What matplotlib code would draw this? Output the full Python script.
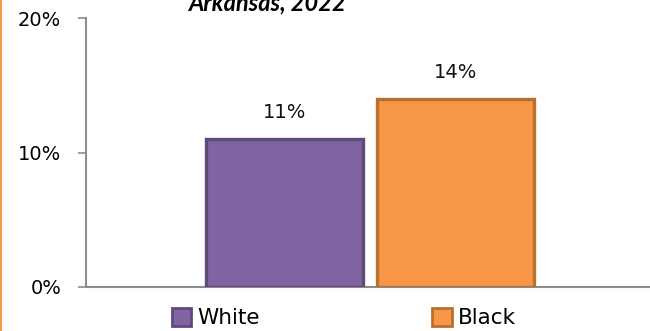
import matplotlib
matplotlib.use("Agg")
import matplotlib.pyplot as plt
from matplotlib.patches import Patch
from matplotlib.lines import Line2D

# Share of population, by race, Arkansas 2022
groups = ["White", "Black"]
values = [11, 14]
fills = ["#8064A2", "#F79646"]
edges = ["#5E4A7C", "#B8702F"]
yticks = [0, 10, 20]
ytick_labels = ["0%", "10%", "20%"]
title = "Arkansas, 2022"

plt.rcParams["font.family"] = ["DejaVu Sans"]

fig = plt.figure(figsize=(6.5, 3.31), dpi=100)
ax = fig.add_axes([86 / 650, 1 - 287 / 331, 1 - 86 / 650 + 0.01, (287 - 18) / 331])

bar_w = 0.275
offsets = [-0.152, 0.148]
for i, (g, v) in enumerate(zip(groups, values)):
    ax.bar(offsets[i], v, width=bar_w, color=fills[i], edgecolor=edges[i],
           linewidth=2.4, zorder=3)
    ax.text(offsets[i], v + 1.25, f"{v}%", ha="center", va="bottom",
            fontsize=14, color="#111111")

ax.set_xlim(-0.5, 0.5)
ax.set_ylim(0, 20)
ax.set_yticks(yticks)
ax.set_yticklabels(ytick_labels, fontsize=14)
ax.set_xticks([])
for s in ["top", "right"]:
    ax.spines[s].set_visible(False)
ax.spines["left"].set_color("#8C8C8C")
ax.spines["bottom"].set_color("#8C8C8C")
ax.spines["left"].set_linewidth(1.5)
ax.spines["bottom"].set_linewidth(1.5)
ax.tick_params(axis="y", length=5.8, width=1.2, color="#8C8C8C", pad=12,
               direction="out")

handles = [Patch(facecolor=fills[i], edgecolor=edges[i], linewidth=2.0)
           for i in range(len(groups))]
fig.legend(handles, groups, loc="center", bbox_to_anchor=(344 / 650, 1 - 318 / 331),
           ncol=2, frameon=False, fontsize=15.5, handlelength=0.9, handleheight=0.9,
           handletextpad=0.3, columnspacing=8.0, borderaxespad=0)

fig.text(268 / 650, 1 - 10 / 331, title, ha="center", va="baseline",
         fontsize=17, fontweight="bold", style="italic", family="Lato")

fig.add_artist(Line2D([0.0015, 0.0015], [0, 1], color="#F79646", linewidth=1.5,
                      transform=fig.transFigure))

fig.savefig("out.png", dpi=100)
